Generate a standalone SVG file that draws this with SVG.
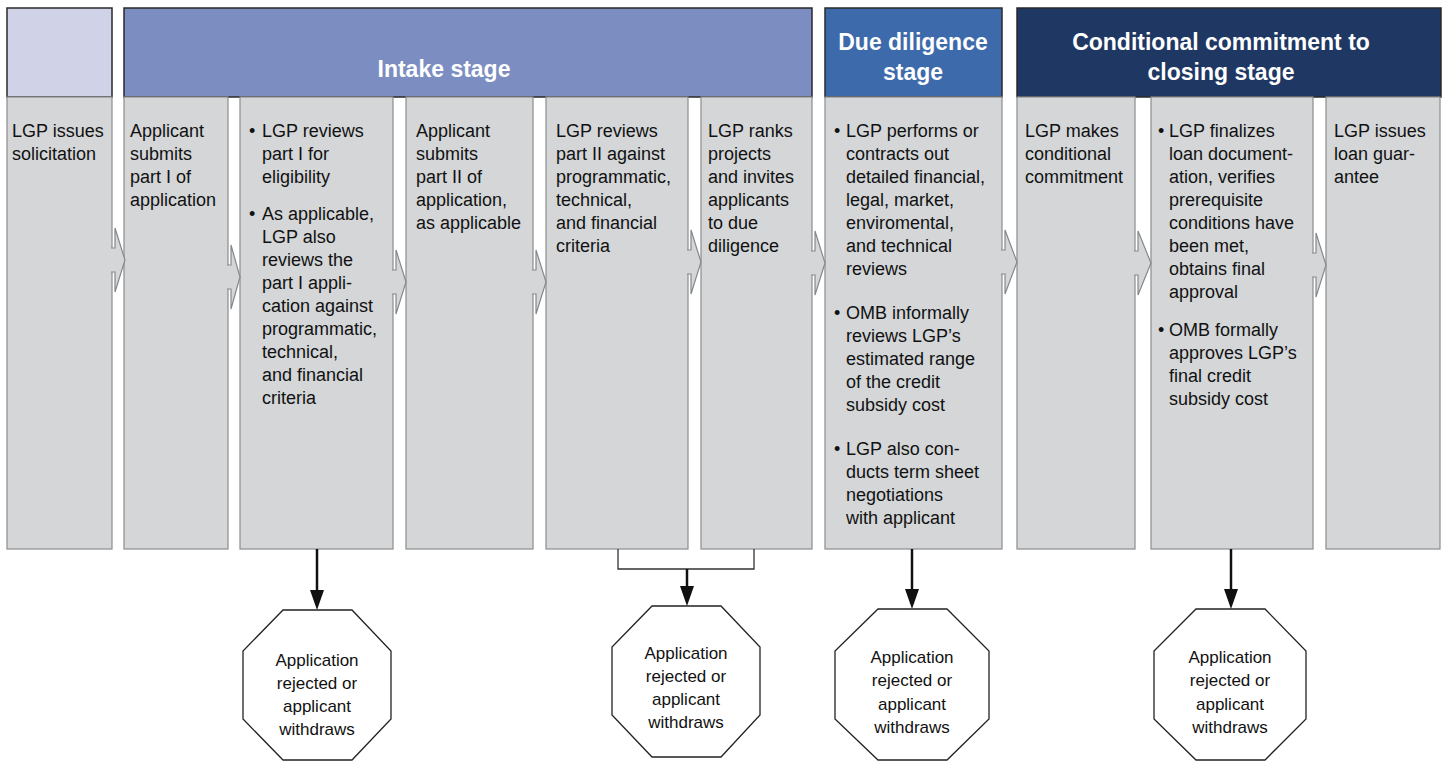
<svg xmlns="http://www.w3.org/2000/svg" width="1449" height="762" viewBox="0 0 1449 762">
<defs>
<style>
.hdr{stroke:#2a2a2a;stroke-width:1.5}
.col{fill:#d4d6d8;stroke:#8a8c8e;stroke-width:1.2}
.arw{fill:#d4d6d8;stroke:#85888a;stroke-width:1.2}
.t{font-family:"Liberation Sans",Arial,sans-serif;font-size:18px;fill:#111}
.h{font-family:"Liberation Sans",Arial,sans-serif;font-size:23px;font-weight:bold;fill:#fff;text-anchor:middle}
.oct{fill:#fff;stroke:#222;stroke-width:1.3}
.ot{font-family:"Liberation Sans",Arial,sans-serif;font-size:17px;fill:#111;text-anchor:middle}
.ln{fill:none;stroke:#111;stroke-width:2.5}
.hd{fill:#111}
.br{fill:none;stroke:#333;stroke-width:1.3}
</style>
</defs>
<rect width="1449" height="762" fill="#fff"/>

<g id="headers">
<rect class="hdr" x="7" y="8" width="105" height="89" fill="#d0d2e8"/>
<rect class="hdr" x="124" y="8" width="688" height="89" fill="#7c8dc1"/>
<text class="h" x="444" y="77">Intake stage</text>
<rect class="hdr" x="825" y="8" width="177" height="89" fill="#3d6aaa"/>
<text class="h" x="913" y="50">Due diligence</text>
<text class="h" x="913" y="80">stage</text>
<rect class="hdr" x="1017" y="8" width="424" height="89" fill="#1f3763"/>
<text class="h" x="1221" y="50">Conditional commitment to</text>
<text class="h" x="1221" y="80">closing stage</text>
</g>

<g id="col1"><rect class="col" x="7" y="97" width="105" height="452"/>
<text class="t"><tspan x="12" y="137">LGP issues</tspan><tspan x="12" y="160">solicitation</tspan></text></g>

<g id="col2"><rect class="col" x="124" y="97" width="104" height="452"/>
<text class="t"><tspan x="130" y="137">Applicant</tspan><tspan x="130" y="160">submits</tspan><tspan x="130" y="183">part I of</tspan><tspan x="130" y="206">application</tspan></text></g>

<g id="col3"><rect class="col" x="240" y="97" width="153" height="452"/>
<text class="t"><tspan x="249" y="137">•</tspan><tspan x="262" y="137">LGP reviews</tspan><tspan x="262" y="160">part I for</tspan><tspan x="262" y="183">eligibility</tspan>
<tspan x="249" y="220">•</tspan><tspan x="262" y="220">As applicable,</tspan><tspan x="262" y="243">LGP also</tspan><tspan x="262" y="266">reviews the</tspan><tspan x="262" y="289">part I appli-</tspan><tspan x="262" y="312">cation against</tspan><tspan x="262" y="335">programmatic,</tspan><tspan x="262" y="358">technical,</tspan><tspan x="262" y="381">and financial</tspan><tspan x="262" y="404">criteria</tspan></text></g>

<g id="col4"><rect class="col" x="406" y="97" width="127" height="452"/>
<text class="t"><tspan x="416" y="137">Applicant</tspan><tspan x="416" y="160">submits</tspan><tspan x="416" y="183">part II of</tspan><tspan x="416" y="206">application,</tspan><tspan x="416" y="229">as applicable</tspan></text></g>

<g id="col5"><rect class="col" x="546" y="97" width="142" height="452"/>
<text class="t"><tspan x="556" y="137">LGP reviews</tspan><tspan x="556" y="160">part II against</tspan><tspan x="556" y="183">programmatic,</tspan><tspan x="556" y="206">technical,</tspan><tspan x="556" y="229">and financial</tspan><tspan x="556" y="252">criteria</tspan></text></g>

<g id="col6"><rect class="col" x="701" y="97" width="111" height="452"/>
<text class="t"><tspan x="708" y="137">LGP ranks</tspan><tspan x="708" y="160">projects</tspan><tspan x="708" y="183">and invites</tspan><tspan x="708" y="206">applicants</tspan><tspan x="708" y="229">to due</tspan><tspan x="708" y="252">diligence</tspan></text></g>

<g id="col7"><rect class="col" x="825" y="97" width="177" height="452"/>
<text class="t"><tspan x="834" y="137">•</tspan><tspan x="846" y="137">LGP performs or</tspan><tspan x="846" y="160">contracts out</tspan><tspan x="846" y="183">detailed financial,</tspan><tspan x="846" y="206">legal, market,</tspan><tspan x="846" y="229">enviromental,</tspan><tspan x="846" y="252">and technical</tspan><tspan x="846" y="275">reviews</tspan>
<tspan x="834" y="319">•</tspan><tspan x="846" y="319">OMB informally</tspan><tspan x="846" y="342">reviews LGP’s</tspan><tspan x="846" y="365">estimated range</tspan><tspan x="846" y="388">of the credit</tspan><tspan x="846" y="411">subsidy cost</tspan>
<tspan x="834" y="455">•</tspan><tspan x="846" y="455">LGP also con-</tspan><tspan x="846" y="478">ducts term sheet</tspan><tspan x="846" y="501">negotiations</tspan><tspan x="846" y="524">with applicant</tspan></text></g>

<g id="col8"><rect class="col" x="1017" y="97" width="118" height="452"/>
<text class="t"><tspan x="1025" y="137">LGP makes</tspan><tspan x="1025" y="160">conditional</tspan><tspan x="1025" y="183">commitment</tspan></text></g>

<g id="col9"><rect class="col" x="1151" y="97" width="162" height="452"/>
<text class="t"><tspan x="1158" y="137">•</tspan><tspan x="1169" y="137">LGP finalizes</tspan><tspan x="1169" y="160">loan document-</tspan><tspan x="1169" y="183">ation, verifies</tspan><tspan x="1169" y="206">prerequisite</tspan><tspan x="1169" y="229">conditions have</tspan><tspan x="1169" y="252">been met,</tspan><tspan x="1169" y="275">obtains final</tspan><tspan x="1169" y="298">approval</tspan>
<tspan x="1158" y="336">•</tspan><tspan x="1169" y="336">OMB formally</tspan><tspan x="1169" y="359">approves LGP’s</tspan><tspan x="1169" y="382">final credit</tspan><tspan x="1169" y="405">subsidy cost</tspan></text></g>

<g id="col10"><rect class="col" x="1326" y="97" width="114" height="452"/>
<text class="t"><tspan x="1334" y="137">LGP issues</tspan><tspan x="1334" y="160">loan guar-</tspan><tspan x="1334" y="183">antee</tspan></text></g>

<g id="connectors">
<path class="arw" d="M111,248 L115,248 L115,228 L125,260 L115,292 L115,272 L111,272"/>
<path class="arw" d="M227,265 L231,265 L231,245 L240,277 L231,309 L231,289 L227,289"/>
<path class="arw" d="M392,270 L396,270 L396,250 L406,282 L396,314 L396,294 L392,294"/>
<path class="arw" d="M532,270 L536,270 L536,250 L546,282 L536,314 L536,294 L532,294"/>
<path class="arw" d="M687,250 L691,250 L691,230 L701,262 L691,294 L691,274 L687,274"/>
<path class="arw" d="M811,251 L815,251 L815,231 L825,263 L815,295 L815,275 L811,275"/>
<path class="arw" d="M1001,250 L1005,250 L1005,230 L1017,262 L1005,294 L1005,274 L1001,274"/>
<path class="arw" d="M1134,251 L1138,251 L1138,231 L1151,263 L1138,295 L1138,275 L1134,275"/>
<path class="arw" d="M1312,253 L1316,253 L1316,233 L1326,265 L1316,297 L1316,277 L1312,277"/>

<path class="ln" d="M317,549 V594"/>
<polygon class="hd" points="310,590 324,590 317,610"/>
<path class="br" d="M618,549 V569 H754 V549"/>
<path class="ln" d="M687,569 V590"/>
<polygon class="hd" points="680,586 694,586 687,606"/>
<path class="ln" d="M912,549 V593"/>
<polygon class="hd" points="905,589 919,589 912,609"/>
<path class="ln" d="M1231,549 V593"/>
<polygon class="hd" points="1224,589 1238,589 1231,609"/>
</g>

<g id="end1"><polygon class="oct" points="283,610 352,610 391,651 391,719 352,760 283,760 243,719 243,651"/>
<text class="ot"><tspan x="317" y="666">Application</tspan><tspan x="317" y="689">rejected or</tspan><tspan x="317" y="712">applicant</tspan><tspan x="317" y="735">withdraws</tspan></text></g>

<g id="end2"><polygon class="oct" points="652,606 721,606 760,647 760,715 721,757 652,757 612,715 612,647"/>
<text class="ot"><tspan x="686" y="659">Application</tspan><tspan x="686" y="682">rejected or</tspan><tspan x="686" y="705">applicant</tspan><tspan x="686" y="728">withdraws</tspan></text></g>

<g id="end3"><polygon class="oct" points="878,609 947,609 989,651 989,719 947,760 878,760 835,719 835,651"/>
<text class="ot"><tspan x="912" y="663">Application</tspan><tspan x="912" y="686">rejected or</tspan><tspan x="912" y="710">applicant</tspan><tspan x="912" y="733">withdraws</tspan></text></g>

<g id="end4"><polygon class="oct" points="1196,609 1265,609 1306,651 1306,719 1265,760 1196,760 1154,719 1154,651"/>
<text class="ot"><tspan x="1230" y="663">Application</tspan><tspan x="1230" y="686">rejected or</tspan><tspan x="1230" y="710">applicant</tspan><tspan x="1230" y="733">withdraws</tspan></text></g>
</svg>
